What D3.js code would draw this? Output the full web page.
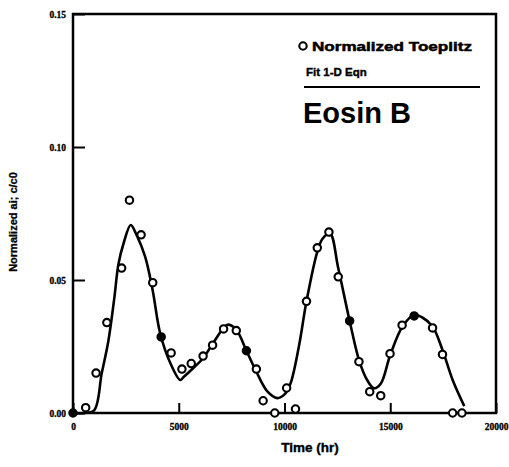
<!DOCTYPE html>
<html>
<head>
<meta charset="utf-8">
<script src="https://cdn.jsdelivr.net/npm/d3@7"></script>
<style>
  html, body { margin: 0; padding: 0; background: #fff; }
  svg { display: block; }
</style>
</head>
<body>
<svg id="chart" width="509" height="467"></svg>
<script>
// Measured Toeplitz-normalized concentrations (time in hours, c/c0)
const obsTime = [0, 600, 1090, 1600, 2300, 2670, 3220, 3770, 4170, 4640, 5150, 5590,
  6150, 6600, 7120, 7720, 8200, 8670, 8990, 9540, 10100, 10520, 11040, 11550,
  12100, 12540, 13080, 13520, 14030, 14550, 14990, 15560, 16130, 17000, 17470,
  17950, 18390];
const obsValue = [0.000, 0.002, 0.015, 0.034, 0.0545, 0.080, 0.067, 0.049, 0.0286, 0.0226, 0.0165, 0.0186,
  0.0214, 0.0255, 0.0316, 0.031, 0.0234, 0.0165, 0.0046, 0.000, 0.0094, 0.0015, 0.042, 0.0621,
  0.068, 0.0512, 0.0346, 0.0193, 0.008, 0.0065, 0.0223, 0.033, 0.0365, 0.032, 0.022,
  0.000, 0.000];
// Observations drawn as solid dots
const solidTimes = [0, 4170, 8200, 13080, 16130];

// 1-D equation fit
const fitTime = [0, 500, 1000, 1360, 1670, 1950, 2150, 2400, 2730, 3000, 3410, 3770,
  4120, 4600, 5070, 5230, 5700, 6150, 6600, 7120, 7300, 7700, 8200, 8670, 9200, 9650,
  10000, 10280, 10680, 11040, 11550, 11800, 12150, 12540, 13080, 13520, 13900, 14230,
  14550, 15000, 15580, 16130, 16500, 17000, 17470, 17950, 18500];
const fitValue = [0.000, 0.000, 0.001, 0.015, 0.027, 0.043, 0.056, 0.064, 0.0707, 0.067, 0.0588, 0.046,
  0.030, 0.0188, 0.0124, 0.0135, 0.017, 0.0206, 0.026, 0.032, 0.0332, 0.0315, 0.0234, 0.0155, 0.008, 0.0056,
  0.007, 0.011, 0.025, 0.042, 0.0606, 0.0655, 0.0675, 0.0545, 0.0346, 0.020, 0.0125, 0.0093,
  0.011, 0.0218, 0.0325, 0.0368, 0.036, 0.0325, 0.0237, 0.0124, 0.0026];

const xTicks = [0, 5000, 10000, 15000, 20000];
const yTicks = [0.00, 0.05, 0.10, 0.15];

const svg = d3.select("#chart");
const x = d3.scaleLinear().domain([0, 20000]).range([73, 496]);
const y = d3.scaleLinear().domain([0, 0.15]).range([413, 14]);

// Axes with ticks pointing into the plot
const xAxis = d3.axisBottom(x).tickValues(xTicks).tickFormat(d3.format("d"))
  .tickSize(-10).tickPadding(10);
const yAxis = d3.axisLeft(y).tickValues(yTicks).tickFormat(d3.format(".2f"))
  .tickSize(-12).tickPadding(7);

const gx = svg.append("g").attr("transform", `translate(0,${y(0)})`).call(xAxis);
const gy = svg.append("g").attr("transform", `translate(${x(0)},0)`).call(yAxis);
[gx, gy].forEach(g => {
  g.select(".domain").remove();
  g.selectAll(".tick line").attr("stroke", "#000").attr("stroke-width", 2);
  g.selectAll(".tick text")
    .attr("font-family", "'Liberation Serif', 'DejaVu Serif', serif")
    .attr("font-weight", "bold").attr("font-size", 9.5).attr("fill", "#000")
    .attr("stroke", "#000").attr("stroke-width", 0.3);
});

// Frame
svg.append("rect")
  .attr("x", x(0)).attr("y", y(0.15))
  .attr("width", x(20000) - x(0)).attr("height", y(0) - y(0.15))
  .attr("fill", "none").attr("stroke", "#000").attr("stroke-width", 2.5);

// Fit curve
const line = d3.line()
  .x((d, i) => x(fitTime[i]))
  .y((d, i) => y(fitValue[i]))
  .curve(d3.curveCatmullRom.alpha(0.5));
svg.append("path")
  .datum(fitTime)
  .attr("d", line)
  .attr("fill", "none").attr("stroke", "#000").attr("stroke-width", 2.6)
  .attr("stroke-linejoin", "round");

// Observations
svg.append("g").selectAll("circle")
  .data(obsTime)
  .join("circle")
  .attr("cx", d => x(d))
  .attr("cy", (d, i) => y(obsValue[i]))
  .attr("r", 3.7)
  .attr("fill", d => solidTimes.includes(d) ? "#000" : "#fff")
  .attr("stroke", "#000").attr("stroke-width", 2.1);

// Legend
const sans = "'Liberation Sans', Arial, sans-serif";
svg.append("circle").attr("cx", 303).attr("cy", 46).attr("r", 3.7)
  .attr("fill", "#fff").attr("stroke", "#000").attr("stroke-width", 2.1);
svg.append("text").attr("x", 312).attr("y", 51)
  .attr("font-family", sans).attr("font-weight", "bold").attr("font-size", 13)
  .attr("textLength", 160).attr("lengthAdjust", "spacingAndGlyphs")
  .attr("stroke", "#000").attr("stroke-width", 0.5)
  .text("Normalized Toeplitz");
svg.append("text").attr("x", 306).attr("y", 76)
  .attr("font-family", sans).attr("font-weight", "bold").attr("font-size", 11.5)
  .attr("stroke", "#000").attr("stroke-width", 0.4)
  .text("Fit 1-D Eqn");
svg.append("line").attr("x1", 304).attr("x2", 480).attr("y1", 87).attr("y2", 87)
  .attr("stroke", "#000").attr("stroke-width", 2);
svg.append("text").attr("x", 303).attr("y", 123)
  .attr("font-family", sans).attr("font-weight", "bold").attr("font-size", 29)
  .text("Eosin B");

// Axis titles
svg.append("text").attr("x", 310).attr("y", 452).attr("text-anchor", "middle")
  .attr("font-family", sans).attr("font-weight", "bold").attr("font-size", 13.5)
  .attr("stroke", "#000").attr("stroke-width", 0.4)
  .text("Time (hr)");
svg.append("text").attr("transform", "translate(17,222) rotate(-90)")
  .attr("text-anchor", "middle")
  .attr("font-family", sans).attr("font-weight", "bold").attr("font-size", 11)
  .attr("stroke", "#000").attr("stroke-width", 0.3)
  .text("Normalized ai; c/c0");
</script>
</body>
</html>
